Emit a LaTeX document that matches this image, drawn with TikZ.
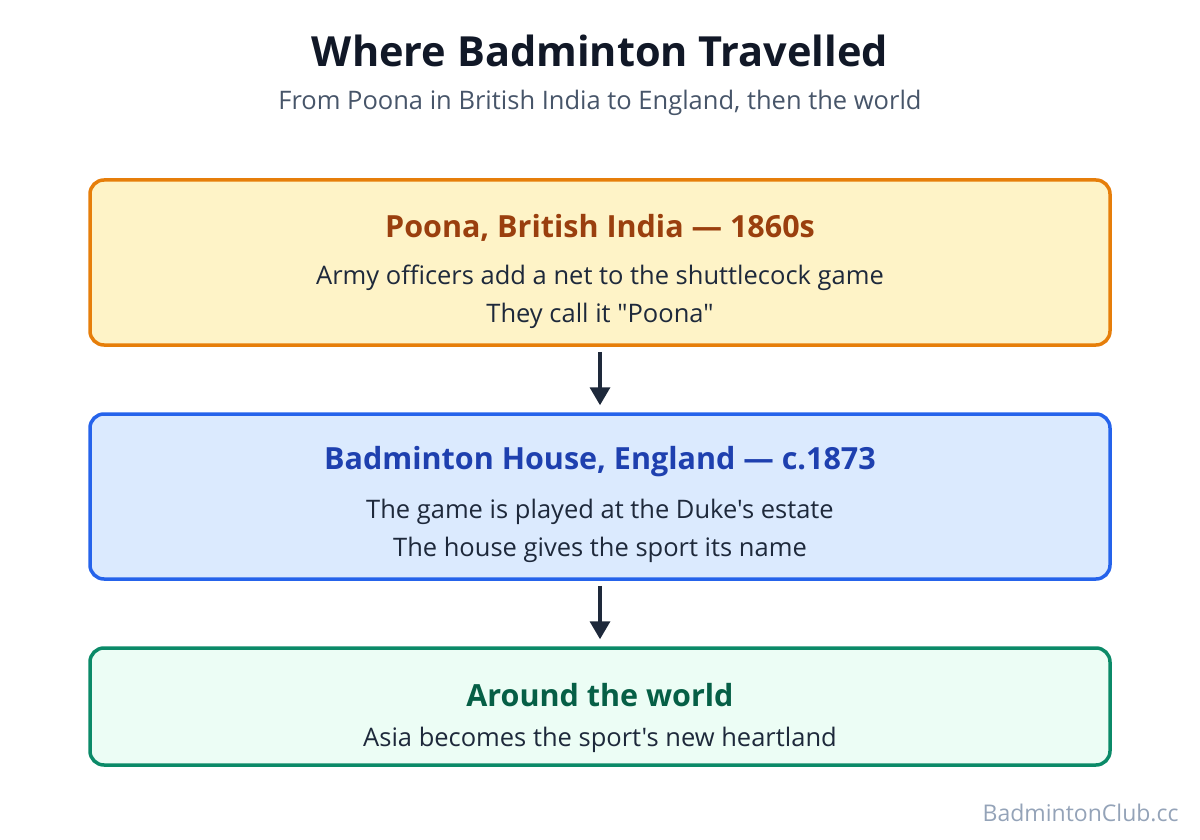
\documentclass[tikz,border=0pt]{standalone}
\usepackage{fontspec}
\setmainfont{Open Sans}[Ligatures=TeXOff]
\usepackage{xcolor}
\usepackage{tikz}
\usetikzlibrary{arrows.meta, positioning}

\definecolor{inkdark}{HTML}{111827}
\definecolor{inkbody}{HTML}{1E293B}
\definecolor{inksub}{HTML}{475569}
\definecolor{inkmark}{HTML}{94A3B8}
\definecolor{poonafill}{HTML}{FEF3C7}
\definecolor{poonaline}{HTML}{E67E0A}
\definecolor{poonahead}{HTML}{9A3F0E}
\definecolor{housefill}{HTML}{DBEAFE}
\definecolor{houseline}{HTML}{2563EB}
\definecolor{househead}{HTML}{1E40AF}
\definecolor{worldfill}{HTML}{ECFDF5}
\definecolor{worldline}{HTML}{0B8A68}
\definecolor{worldhead}{HTML}{065F46}

\begin{document}
\begin{tikzpicture}[
    x=1pt, y=-1pt,
    card/.style={draw, line width=3.5pt, rounded corners=14pt,
        minimum width=1020pt, inner sep=0pt},
    cardtitle/.style={font=\fontsize{30.5}{34}\selectfont\bfseries},
    cardtext/.style={font=\fontsize{25.5}{38}\selectfont, text=inkbody, align=center},
    flow/.style={draw=inkbody, line width=3.5pt,
        -{Triangle[length=18pt, width=20pt]}}
]

% canvas
\useasboundingbox (0,0) rectangle (1200,840);

% heading
\node[font=\fontsize{41.5}{46}\selectfont\bfseries, text=inkdark] (title) at (600,51) {Where Badminton Travelled};
\node[font=\fontsize{25.5}{28}\selectfont, text=inksub] (subtitle) at (600,103) {From Poona in British India to England, then the world};

% stages
\node[card, draw=poonaline, fill=poonafill, minimum height=165pt] (poona) at (600,262.5) {};
\node[cardtitle, text=poonahead] (poonatitle) at (600,228) {Poona, British India — 1860s};
\node[cardtext] (poonabody) at (600,297) {Army officers add a net to the shuttlecock game\\They call it "Poona"};

\node[card, draw=houseline, fill=housefill, minimum height=165pt] (house) at (600,496.5) {};
\node[cardtitle, text=househead] (housetitle) at (600,462) {Badminton House, England — c.1873};
\node[cardtext] (housebody) at (600,531) {The game is played at the Duke's estate\\The house gives the sport its name};

\node[card, draw=worldline, fill=worldfill, minimum height=117pt] (world) at (600,706.5) {};
\node[cardtitle, text=worldhead] (worldtitle) at (600,695) {Around the world};
\node[cardtext] (worldbody) at (600,740) {Asia becomes the sport's new heartland};

% arrows between stages
\draw[flow] ([yshift=-5pt]poona.south) -- ([yshift=7pt]house.north);
\draw[flow] ([yshift=-5pt]house.south) -- ([yshift=7pt]world.north);

% watermark
\node[font=\fontsize{23}{26}\selectfont, text=inkmark, anchor=east] (mark) at (1182,813) {BadmintonClub.cc};

\end{tikzpicture}
\end{document}
